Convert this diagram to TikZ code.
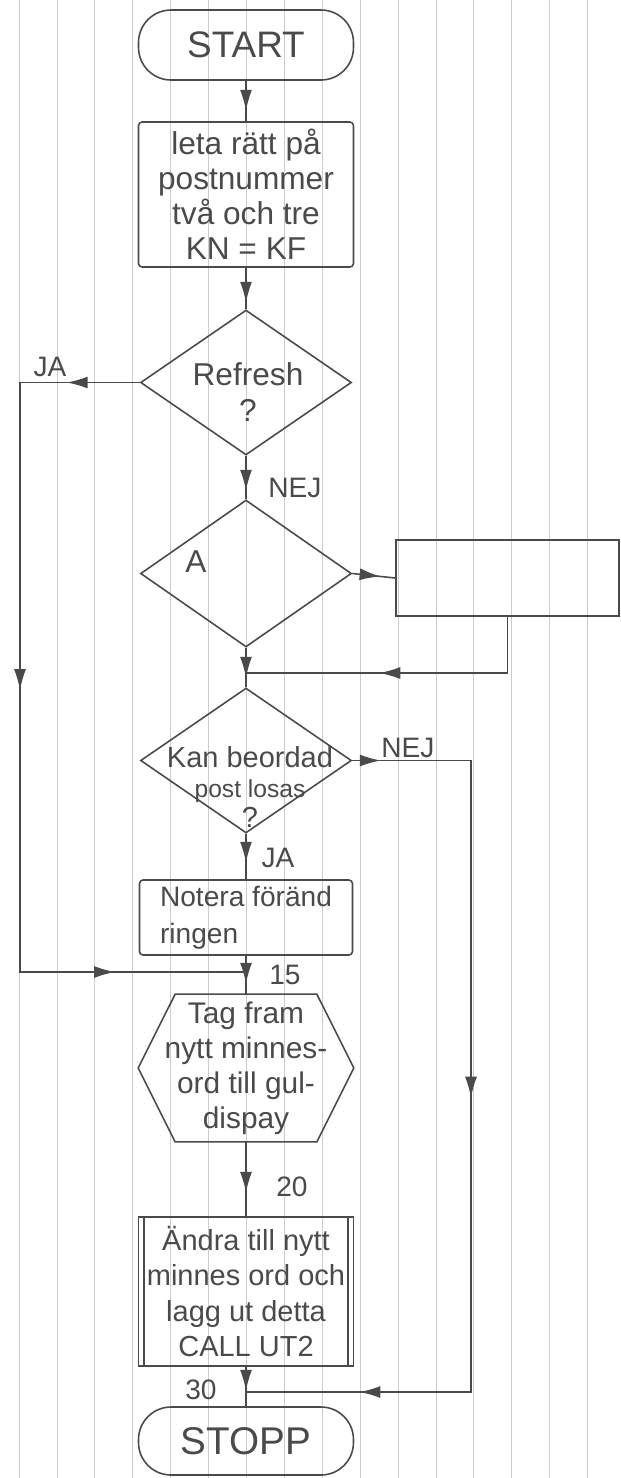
\documentclass[tikz,border=0pt]{standalone}
\usepackage{fontspec}
\setmainfont{Liberation Sans}
\usetikzlibrary{shapes.geometric, arrows.meta, decorations.markings}
\definecolor{ink}{HTML}{4A4A4A}

\begin{document}
\begin{tikzpicture}[x=0.02cm, y=-0.02cm,
  >={Latex[length=0.42cm,width=0.24cm]},
  rule/.style={black!20, line width=0.4pt},
  flow/.style={color=ink, line width=0.9pt},
  tip/.style={postaction={decorate, decoration={markings, mark=at position #1 with {\arrow{>}}}}},
  txt/.style={text=ink, align=center, font=\fontsize{18}{21}\selectfont},
  lbl/.style={text=ink, font=\fontsize{16}{18}\selectfont},
  terminal/.style={txt, draw=ink, line width=0.9pt, rounded corners=0.65cm, minimum width=4.3cm, minimum height=1.4cm},
  process/.style={txt, draw=ink, line width=0.9pt, rounded corners=2pt, minimum width=4.3cm},
  decision/.style={diamond, draw=ink, line width=0.9pt, minimum width=4.22cm, minimum height=2.9cm, inner sep=0pt},
  hexnode/.style={txt, inner sep=0pt, minimum width=4.3cm, minimum height=2.94cm}]
\useasboundingbox (0,0) rectangle (621,1478);

% ruled paper
\foreach \k in {0,...,16}
  \draw[rule] ({19+37.9*\k},0) -- ({19+37.9*\k},1478);

% main column
\node[terminal, font=\fontsize{21}{24}\selectfont] (start) at (246,45) {START};
\node[process, minimum height=2.9cm, font=\fontsize{18}{20}\selectfont] (leta) at (246,194.5) {leta rätt på\\postnummer\\två och tre\\KN = KF};
\node[decision] (refresh) at (246,382.5) {};
\node[txt] (refreshtxt) at (248,392) {Refresh\\?};
\node[decision, minimum height=2.94cm] (achoice) at (246,573.5) {};
\node[txt] (alabel) at (196,562) {A};
\node[process, rounded corners=0pt, minimum width=4.46cm, minimum height=1.52cm] (sidebox) at (507.5,578) {};
\node[decision] (kan) at (246,760.5) {};
\node[txt, font=\fontsize{16.5}{17}\selectfont] (kantxt) at (250,787) {Kan beordad\\{\fontsize{14}{16}\selectfont post losas}\\?};
\node[process, align=left, minimum width=4.26cm, minimum height=1.5cm, font=\fontsize{16}{21}\selectfont] (notera) at (246,917.5) {Notera föränd\\ringen};
\node[hexnode, font=\fontsize{17}{20}\selectfont] (tagfram) at (246,1068) {Tag fram\\nytt minnes-\\ord till gul-\\dispay};
\draw[flow] (tagfram.west) -- ([xshift=0.74cm]tagfram.north west) -- ([xshift=-0.74cm]tagfram.north east)
  -- (tagfram.east) -- ([xshift=-0.74cm]tagfram.south east) -- ([xshift=0.74cm]tagfram.south west) -- cycle;
\node[process, rounded corners=0pt, inner xsep=0.05cm, minimum height=2.98cm, font=\fontsize{16.5}{20}\selectfont] (andra) at (246,1291.5) {Ändra till nytt\\minnes ord och\\lagg ut detta\\CALL UT2};
\draw[flow] ([xshift=0.12cm]andra.north west) -- ([xshift=0.12cm]andra.south west);
\draw[flow] ([xshift=-0.12cm]andra.north east) -- ([xshift=-0.12cm]andra.south east);
\node[terminal, font=\fontsize{22}{24}\selectfont, minimum height=1.36cm] (stopp) at (246,1441) {STOPP};

% bends and joins
\coordinate (jacorner) at (20,972);
\coordinate (join15) at (246,972);
\coordinate (joina) at (246,673);
\coordinate (nejcorner) at (471,1392);
\coordinate (join30) at (246,1392);

% connectors
\draw[flow, tip=0.6cm] (start.south) -- (leta.north);
\draw[flow, tip=0.7cm] (leta.south) -- (refresh.north);
\draw[flow, tip=0.7cm] (refresh.south) -- (achoice.north);
\draw[flow, tip=0.57cm] (achoice.east) -- (sidebox.west);
\draw[flow, tip=3.69cm] (sidebox.south) |- (joina);
\draw[flow, tip=0.6cm] (achoice.south) -- (kan.north);
\draw[flow, tip=0.58cm] (kan.south) -- (notera.north);
\draw[flow, tip=0.56cm] (notera.south) -- (tagfram.north);
\draw[flow, tip=1.02cm] (tagfram.south) -- (andra.north);
\draw[flow, tip=0.48cm] (andra.south) -- (stopp.north);
\draw[flow, tip=1.46cm, tip=8.55cm, tip=16.09cm] (refresh.west) -| (jacorner) -- (join15);
\draw[flow, tip=0.57cm, tip=9.12cm, tip=17.24cm] (kan.east) -| (nejcorner) -- (join30);

% labels
\node[lbl] (jalbl) at (50,367) {JA};
\node[lbl] (nej1) at (295,488) {NEJ};
\node[lbl] (nej2) at (408,748) {NEJ};
\node[lbl] (ja2) at (278,858) {JA};
\node[lbl] (l15) at (285,975) {15};
\node[lbl] (l20) at (292,1187) {20};
\node[lbl] (l30) at (201,1390) {30};
\end{tikzpicture}
\end{document}
